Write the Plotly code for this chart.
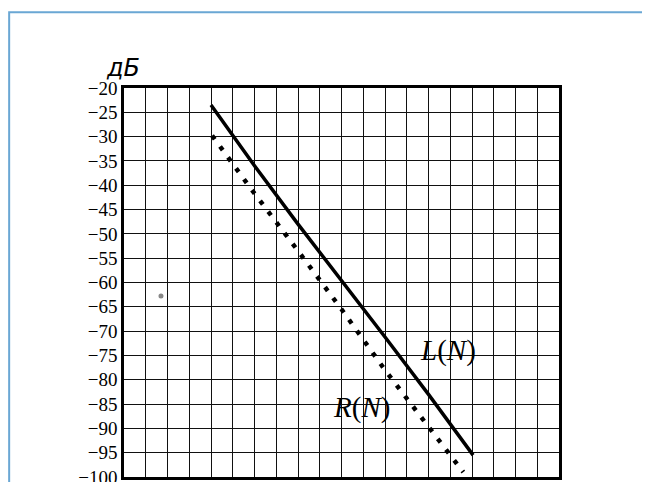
import plotly.graph_objects as go

# values (N along x, dB along y)
n_l = [4, 6, 8, 10, 12, 14, 16.05]
l_db = [-23.5, -36, -48, -59.5, -71.2, -83, -95.5]

n_r = [4.05, 6, 8, 10, 12, 14, 15.6]
r_db = [-29.8, -41.7, -53.5, -65.5, -78, -89.5, -99]

# stray speck on the scan
speck_n = [1.7]
speck_db = [-62.8]

y_ticks = list(range(-100, -15, 5))

fig = go.Figure()

fig.add_trace(go.Scatter(
    x=n_l, y=l_db, mode='lines', name='L(N)',
    line=dict(color='black', width=3.5),
))
fig.add_trace(go.Scatter(
    x=n_r, y=r_db, mode='lines', name='R(N)',
    line=dict(color='black', width=4.5, dash='4.5px,9px'),
))
fig.add_trace(go.Scatter(
    x=speck_n, y=speck_db, mode='markers',
    marker=dict(color='#888888', size=5),
))

serif = 'Liberation Serif'

fig.add_annotation(x=14.9, y=-73.9, text='<i>L</i>(<i>N</i>)', showarrow=False,
                   font=dict(family=serif, size=29, color='black'))
fig.add_annotation(x=10.94, y=-85.8, text='<i>R</i>(<i>N</i>)', showarrow=False,
                   font=dict(family=serif, size=29, color='black'))
fig.add_annotation(xref='paper', yref='paper', x=-0.003, y=1.052, text='<i>дБ</i>',
                   showarrow=False, xanchor='center', yanchor='middle',
                   font=dict(family='DejaVu Sans', size=24, color='black'))

# light blue frame of the scanned page
fig.add_shape(type='rect', xref='paper', yref='paper',
              x0=-0.264, x1=1.2, y0=-0.2, y1=1.195,
              line=dict(color='#6aa7d4', width=2), layer='below')

fig.update_xaxes(
    range=[0, 20], dtick=1, showticklabels=False, ticks='', automargin=False,
    showgrid=True, gridcolor='#111111', gridwidth=1.2,
    showline=True, linecolor='black', linewidth=2.5, mirror=True, zeroline=False,
)
fig.update_yaxes(
    range=[-100, -20], tickvals=y_ticks, ticks='', automargin=False,
    showgrid=True, gridcolor='#111111', gridwidth=1.2,
    showline=True, linecolor='black', linewidth=2.5, mirror=True, zeroline=False,
    tickfont=dict(family=serif, size=19, color='black'),
)

fig.update_layout(
    width=650, height=482,
    margin=dict(l=116, r=99, t=80, b=13),
    showlegend=False,
    plot_bgcolor='white', paper_bgcolor='white',
)

fig.write_html("out.html")
